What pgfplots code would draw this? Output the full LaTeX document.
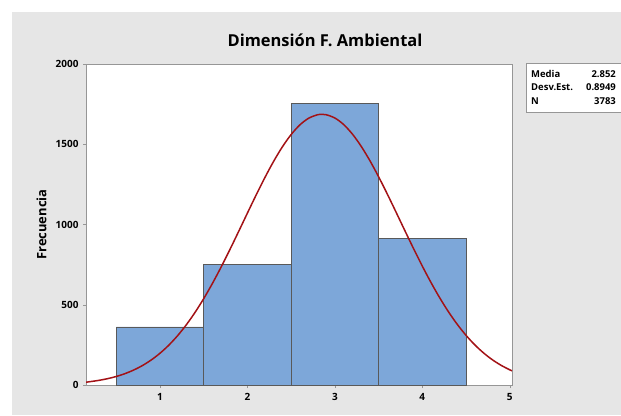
\documentclass[border=0pt]{standalone}
\usepackage{pgfplots}
\pgfplotsset{compat=1.18}
\usepackage{fontspec}
\setmainfont{Open Sans}
\definecolor{bg}{RGB}{230,230,230}
\definecolor{barblue}{RGB}{125,167,217}
\definecolor{curvered}{RGB}{163,18,22}
\definecolor{framegray}{RGB}{150,150,150}
\begin{document}
\begin{tikzpicture}[x=1bp,y=1bp]
\path[use as bounding box] (0,0) rectangle (621,415);
\fill[bg] (12,0) rectangle (621,403);
\begin{axis}[
  at={(86bp,30bp)}, anchor=south west,
  scale only axis, width=426bp, height=321bp,
  xmin=0.153, xmax=5.026, ymin=0, ymax=2000,
  axis background/.style={fill=white},
  axis line style={framegray},
  tick align=outside, xtick pos=lower, ytick pos=left,
  major tick length=3bp,
  tick style={framegray},
  xtick={1,2,3,4,5}, ytick={0,500,1000,1500,2000},
  /pgf/number format/assume math mode=true,
  ticklabel style={font=\bfseries\fontsize{10}{12}\selectfont},
  xticklabel style={yshift=-2bp},
  scaled y ticks=false,
  yticklabel style={/pgf/number format/1000 sep={}, xshift=-1bp},
  ylabel={Frecuencia},
  ylabel style={font=\bfseries\fontsize{13}{15}\selectfont, at={(axis description cs:0,0.5)}, anchor=south, yshift=36bp},
]
\addplot[ybar interval, fill=barblue, draw=black!65, line width=0.6pt] coordinates {
  (0.5,362) (1.5,752) (2.5,1754) (3.5,915) (4.5,915)
};
\addplot[curvered, line width=1.5pt, smooth] coordinates {
(0.153,17.5) (0.2,20.9) (0.3,28.9) (0.4,39.5) (0.5,53.3) (0.6,71.1) (0.7,93.7) (0.8,121.7) (0.9,156.3)
(1.0,198.2) (1.1,248.1) (1.2,306.9) (1.3,374.9) (1.4,452.2) (1.5,538.7) (1.6,633.8) (1.7,736.5)
(1.8,845.1) (1.9,957.7) (2.0,1071.9) (2.1,1184.8) (2.2,1293.3) (2.3,1394.3) (2.4,1484.5)
(2.5,1560.9) (2.6,1620.9) (2.7,1662.3) (2.8,1683.6) (2.852,1686.5) (2.9,1684.0) (3.0,1663.5)
(3.1,1622.9) (3.2,1563.6) (3.3,1487.8) (3.4,1398.1) (3.5,1297.5) (3.6,1189.2) (3.7,1076.5)
(3.8,962.2) (3.9,849.5) (4.0,740.7) (4.1,637.8) (4.2,542.3) (4.3,455.4) (4.4,377.7) (4.5,309.4)
(4.6,250.3) (4.7,200.0) (4.8,157.8) (4.9,123.0) (5.0,94.6) (5.026,88.5)
};
\end{axis}
\node[font=\bfseries\fontsize{16.5}{19}\selectfont] at (325,375) {Dimensión F. Ambiental};
\draw[framegray, fill=white] (526,303) rectangle (630,352);
\begin{scope}[font=\bfseries\fontsize{9.5}{11}\selectfont]
\node[anchor=west, inner sep=0pt] at (531,341) {Media};
\node[anchor=west, inner sep=0pt] at (531,328) {Desv.Est.};
\node[anchor=west, inner sep=0pt] at (531,314) {N};
\node[anchor=east, inner sep=0pt] at (616,341) {2.852};
\node[anchor=east, inner sep=0pt] at (616,328) {0.8949};
\node[anchor=east, inner sep=0pt] at (616,314) {3783};
\end{scope}
\end{tikzpicture}
\end{document}
